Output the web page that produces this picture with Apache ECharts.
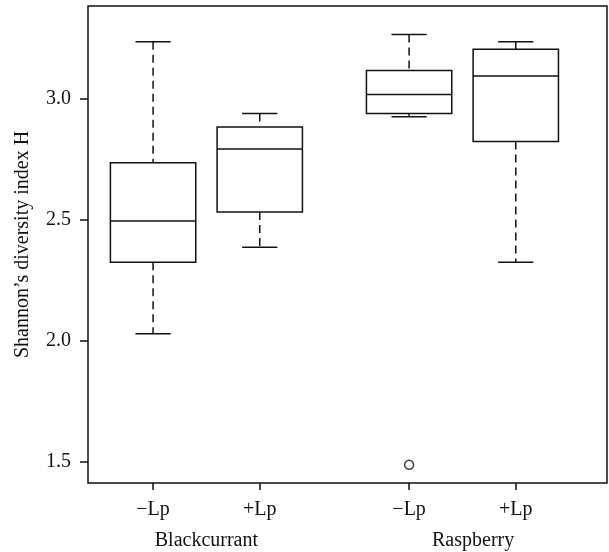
<!DOCTYPE html>
<html>
<head>
<meta charset="utf-8">
<script src="https://cdn.jsdelivr.net/npm/echarts@6/dist/echarts.min.js"></script>
<style>
  html, body { margin: 0; padding: 0; background: #fff; }
  #chart { width: 609px; height: 552px; }
</style>
</head>
<body>
<div id="chart"></div>
<script>
// box positions on the x scale and their labels
const positions = [1, 2, 3.4, 4.4];
const treatments = ['−Lp', '+Lp', '−Lp', '+Lp'];
const groups = ['Blackcurrant', 'Raspberry'];
const groupCenters = [1.5, 4.0];

// five-number summaries
const lowWhisker = [2.028, 2.386, 2.926, 2.324];
const q1 = [2.324, 2.532, 2.939, 2.824];
const median = [2.495, 2.793, 3.018, 3.094];
const q3 = [2.736, 2.884, 3.117, 3.205];
const highWhisker = [3.236, 2.939, 3.266, 3.236];

// outliers [x position, value]
const outliers = [[3.4, 1.486]];

const yTicks = [1.5, 2.0, 2.5, 3.0];

const font = 'Liberation Serif';
const ink = '#111';
const lw = 1.5;

const boxData = positions.map((p, i) => [p, lowWhisker[i], q1[i], median[i], q3[i], highWhisker[i]]);

const renderBox = (params, api) => {
  const x = api.value(0);
  const pt = v => api.coord([x, v]);
  const half = api.size([0.8, 0])[0] / 2;
  const capHalf = api.size([0.33, 0])[0] / 2;
  const lo = pt(api.value(1)), b1 = pt(api.value(2)), md = pt(api.value(3)),
        b3 = pt(api.value(4)), hi = pt(api.value(5));
  const solid = { stroke: ink, lineWidth: lw, fill: null };
  const dashed = { stroke: ink, lineWidth: lw, lineDash: [8, 5] };
  return {
    type: 'group',
    children: [
      { type: 'line', shape: { x1: hi[0], y1: hi[1], x2: b3[0], y2: b3[1] }, style: dashed },
      { type: 'line', shape: { x1: b1[0], y1: b1[1], x2: lo[0], y2: lo[1] }, style: dashed },
      { type: 'line', shape: { x1: hi[0] - capHalf, y1: hi[1], x2: hi[0] + capHalf, y2: hi[1] }, style: solid },
      { type: 'line', shape: { x1: lo[0] - capHalf, y1: lo[1], x2: lo[0] + capHalf, y2: lo[1] }, style: solid },
      { type: 'rect', shape: { x: b3[0] - half, y: b3[1], width: half * 2, height: b1[1] - b3[1] },
        style: { stroke: ink, lineWidth: lw, fill: '#fff' } },
      { type: 'line', shape: { x1: md[0] - half, y1: md[1], x2: md[0] + half, y2: md[1] }, style: solid }
    ]
  };
};

var myChart = echarts.init(document.getElementById('chart'));
var option = {
  animation: false,
  grid: {
    left: 88, top: 6, right: 2, bottom: 69,
    show: true, borderColor: ink, borderWidth: lw, backgroundColor: 'transparent'
  },
  xAxis: [
    {
      type: 'value', min: 0.39, max: 5.255,
      axisLine: { show: false },
      splitLine: { show: false },
      axisTick: { show: true, length: 7, customValues: positions, lineStyle: { color: ink, width: lw } },
      axisLabel: {
        customValues: positions, margin: 17,
        fontFamily: font, fontSize: 20, color: ink,
        formatter: v => treatments[positions.indexOf(v)]
      }
    },
    {
      type: 'value', min: 0.39, max: 5.255, position: 'bottom',
      axisLine: { show: false },
      splitLine: { show: false },
      axisTick: { show: false },
      axisLabel: {
        customValues: groupCenters, margin: 48,
        fontFamily: font, fontSize: 20, color: ink,
        formatter: v => groups[groupCenters.indexOf(v)]
      }
    }
  ],
  yAxis: {
    type: 'value', min: 1.411, max: 3.384,
    name: 'Shannon’s diversity index H',
    nameLocation: 'middle', nameRotate: 90, nameGap: 55,
    nameTextStyle: { fontFamily: font, fontSize: 20, color: ink },
    axisLine: { show: false },
    splitLine: { show: false },
    axisTick: { show: true, length: 8, customValues: yTicks, lineStyle: { color: ink, width: lw } },
    axisLabel: {
      customValues: yTicks, margin: 17,
      fontFamily: font, fontSize: 20, color: ink,
      formatter: v => v.toFixed(1)
    }
  },
  series: [
    {
      type: 'custom',
      renderItem: renderBox,
      encode: { x: 0, y: [1, 2, 3, 4, 5] },
      data: boxData
    },
    {
      type: 'scatter',
      symbol: 'circle', symbolSize: 9,
      itemStyle: { color: '#fff', borderColor: ink, borderWidth: lw },
      data: outliers
    }
  ]
};
option && myChart.setOption(option);
</script>
</body>
</html>
